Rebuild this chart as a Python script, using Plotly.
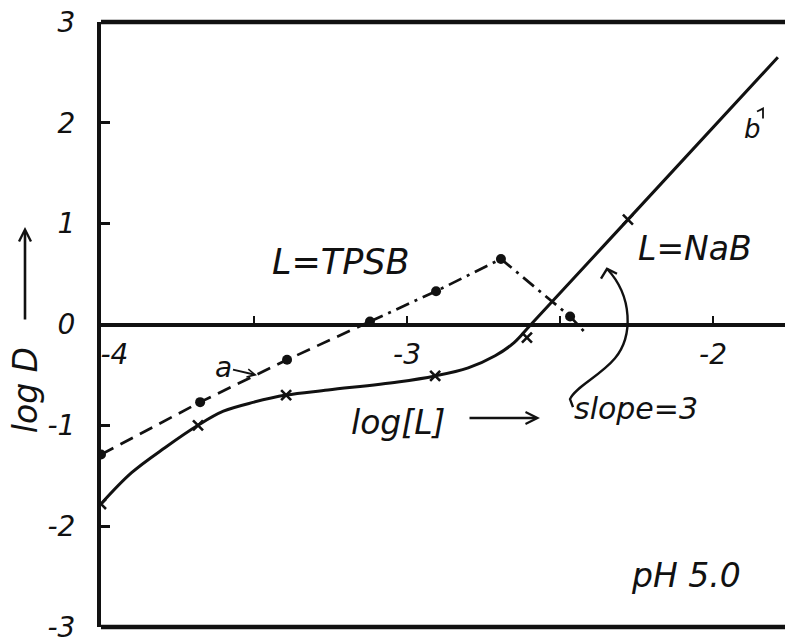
import plotly.graph_objects as go

# ---------------- data ----------------
# L = NaB : measured points (crosses)
nab_x = [-4.0, -3.683, -3.395, -2.908, -2.608, -2.278]
nab_y = [-1.78, -1.00, -0.70, -0.51, -0.13, 1.04]
# NaB drawn curve
nab_curve_x = [-4.0, -3.90, -3.79, -3.683, -3.60, -3.50, -3.395, -3.258, -3.03,
               -2.908, -2.80, -2.712, -2.650, -2.595, -2.278, -1.788]
nab_curve_y = [-1.78, -1.47, -1.22, -1.00, -0.86, -0.77, -0.70, -0.65, -0.57,
               -0.51, -0.43, -0.31, -0.18, 0.0, 1.04, 2.65]

# L = TPSB : measured points (dots)
tpsb_x = [-4.0, -3.676, -3.392, -3.121, -2.905, -2.693, -2.467]
tpsb_y = [-1.29, -0.77, -0.35, 0.03, 0.33, 0.65, 0.08]
# dashed part and dash-dot part of the drawn line
tpsb_dash_x = [-4.0, -3.676, -3.392, -3.121]
tpsb_dash_y = [-1.29, -0.77, -0.35, 0.03]
tpsb_dd_x = [-3.121, -2.905, -2.693, -2.467, -2.415]
tpsb_dd_y = [0.03, 0.33, 0.65, 0.08, -0.09]

x_tickvals = [-4, -3.5, -3, -2.5, -2]
x_ticktext = ["\u00a0\u00a0\u00a0-4", "", "-3", "", "-2"]
y_tickvals = [-3, -2, -1, 0, 1, 2, 3]
y_ticktext = ["-3", "-2", "-1", "0", "1", "2", "3"]

# ---------------- layout constants ----------------
W, H = 785, 644
ML, MR, MT, MB = 101, 0, 22, 14
PW, PH = W - ML - MR, H - MT - MB
X_RANGE = [-4.0, -4.0 + PW / 306.0]
Y_RANGE = [-3.0, 3.0]

FONT = "DejaVu Sans"
INK = "#111111"


def px(x):
    return (x - ML) / PW


def py(y):
    return (H - MB - y) / PH


def pt(x, y):
    return f"{px(x):.5f},{py(y):.5f}"


fig = go.Figure()

fig.add_trace(go.Scatter(x=nab_curve_x, y=nab_curve_y, mode="lines",
                         line=dict(color=INK, width=3, shape="spline", smoothing=1.0),
                         hoverinfo="skip", showlegend=False))
fig.add_trace(go.Scatter(x=nab_x, y=nab_y, mode="markers",
                         marker=dict(symbol="x-thin", size=10, line=dict(color=INK, width=2.6)),
                         showlegend=False, name="L=NaB"))
fig.add_trace(go.Scatter(x=tpsb_dash_x, y=tpsb_dash_y, mode="lines",
                         line=dict(color=INK, width=2.7, dash="14px,8px"),
                         hoverinfo="skip", showlegend=False))
fig.add_trace(go.Scatter(x=tpsb_dd_x, y=tpsb_dd_y, mode="lines",
                         line=dict(color=INK, width=2.7, dash="14px,6px,3px,6px"),
                         hoverinfo="skip", showlegend=False))
fig.add_trace(go.Scatter(x=tpsb_x, y=tpsb_y, mode="markers",
                         marker=dict(symbol="circle", size=10, color=INK),
                         showlegend=False, name="L=TPSB"))

tickfont = dict(family=FONT, size=28, color=INK, style="italic")

fig.update_layout(
    width=W, height=H,
    margin=dict(l=ML, r=MR, t=MT, b=MB, pad=0),
    paper_bgcolor="white", plot_bgcolor="white",
    showlegend=False,
    xaxis=dict(range=X_RANGE, anchor="free", position=0.5,
               showline=True, linecolor=INK, linewidth=4,
               showgrid=False, zeroline=False,
               tickmode="array", tickvals=x_tickvals, ticktext=x_ticktext,
               ticks="inside", ticklen=7, tickwidth=2, tickcolor=INK,
               ticklabelstandoff=4, tickfont=tickfont),
    yaxis=dict(range=Y_RANGE, showline=True, linecolor=INK, linewidth=4,
               showgrid=False, zeroline=False,
               tickmode="array", tickvals=y_tickvals, ticktext=y_ticktext,
               ticks="inside", ticklen=9, tickwidth=3, tickcolor=INK,
               ticklabelstandoff=16, ticklabeloverflow="allow", tickfont=tickfont),
)

# frame: top and bottom borders
fig.add_shape(type="line", xref="paper", yref="paper", x0=0, x1=1, y0=1, y1=1,
              line=dict(color=INK, width=4.5))
fig.add_shape(type="line", xref="paper", yref="paper", x0=0, x1=1, y0=0, y1=0,
              line=dict(color=INK, width=4.5))

# curved arrow from "slope=3" to the NaB line
slope_path = (f"M{pt(573, 409)} L{pt(570, 401)} "
              f"C{pt(575, 389)} {pt(600, 378)} {pt(615, 360)} "
              f"C{pt(633, 338)} {pt(633, 298)} {pt(607, 270)}")
fig.add_shape(type="path", xref="paper", yref="paper", path=slope_path,
              line=dict(color=INK, width=2.4))
fig.add_shape(type="path", xref="paper", yref="paper",
              path=f"M{pt(601, 280)} L{pt(607, 270)} L{pt(617, 275)}",
              line=dict(color=INK, width=2.4))
# small hook above "b"
fig.add_shape(type="path", xref="paper", yref="paper",
              path=f"M{pt(757, 112)} L{pt(763, 109)} L{pt(763, 119)}",
              line=dict(color=INK, width=1.8))


def txt(text, x, y, size, **kw):
    fig.add_annotation(text=text, xref="paper", yref="paper", x=px(x), y=py(y),
                       showarrow=False, xanchor="center", yanchor="middle",
                       font=dict(family=FONT, size=size, color=INK, style="italic"), **kw)


txt("L=TPSB", 341, 263, 35)
txt("L=NaB", 695, 250, 33)
txt("log[L]", 398, 424, 33)
txt("slope=3", 636, 410, 30)
txt("pH 5.0", 686, 578, 33)
txt("b", 752, 130, 26)
txt("log D", 25, 392, 33, textangle=-90)

# arrows
arrow_kw = dict(showarrow=True, arrowhead=5, arrowsize=0.9, arrowwidth=2.6, arrowcolor=INK,
                xref="paper", yref="paper", axref="pixel", ayref="pixel")
fig.add_annotation(text="", x=px(540), y=py(420), ax=-72, ay=0, **arrow_kw)
fig.add_annotation(text="", x=px(25), y=py(228), ax=0, ay=94, **arrow_kw)
fig.add_annotation(text="a", x=px(257), y=py(377), ax=-34, ay=-8,
                   font=dict(family=FONT, size=28, color=INK, style="italic"),
                   showarrow=True, arrowhead=5, arrowsize=0.8, arrowwidth=2, arrowcolor=INK,
                   xref="paper", yref="paper", standoff=0)

fig.write_html("out.html")
